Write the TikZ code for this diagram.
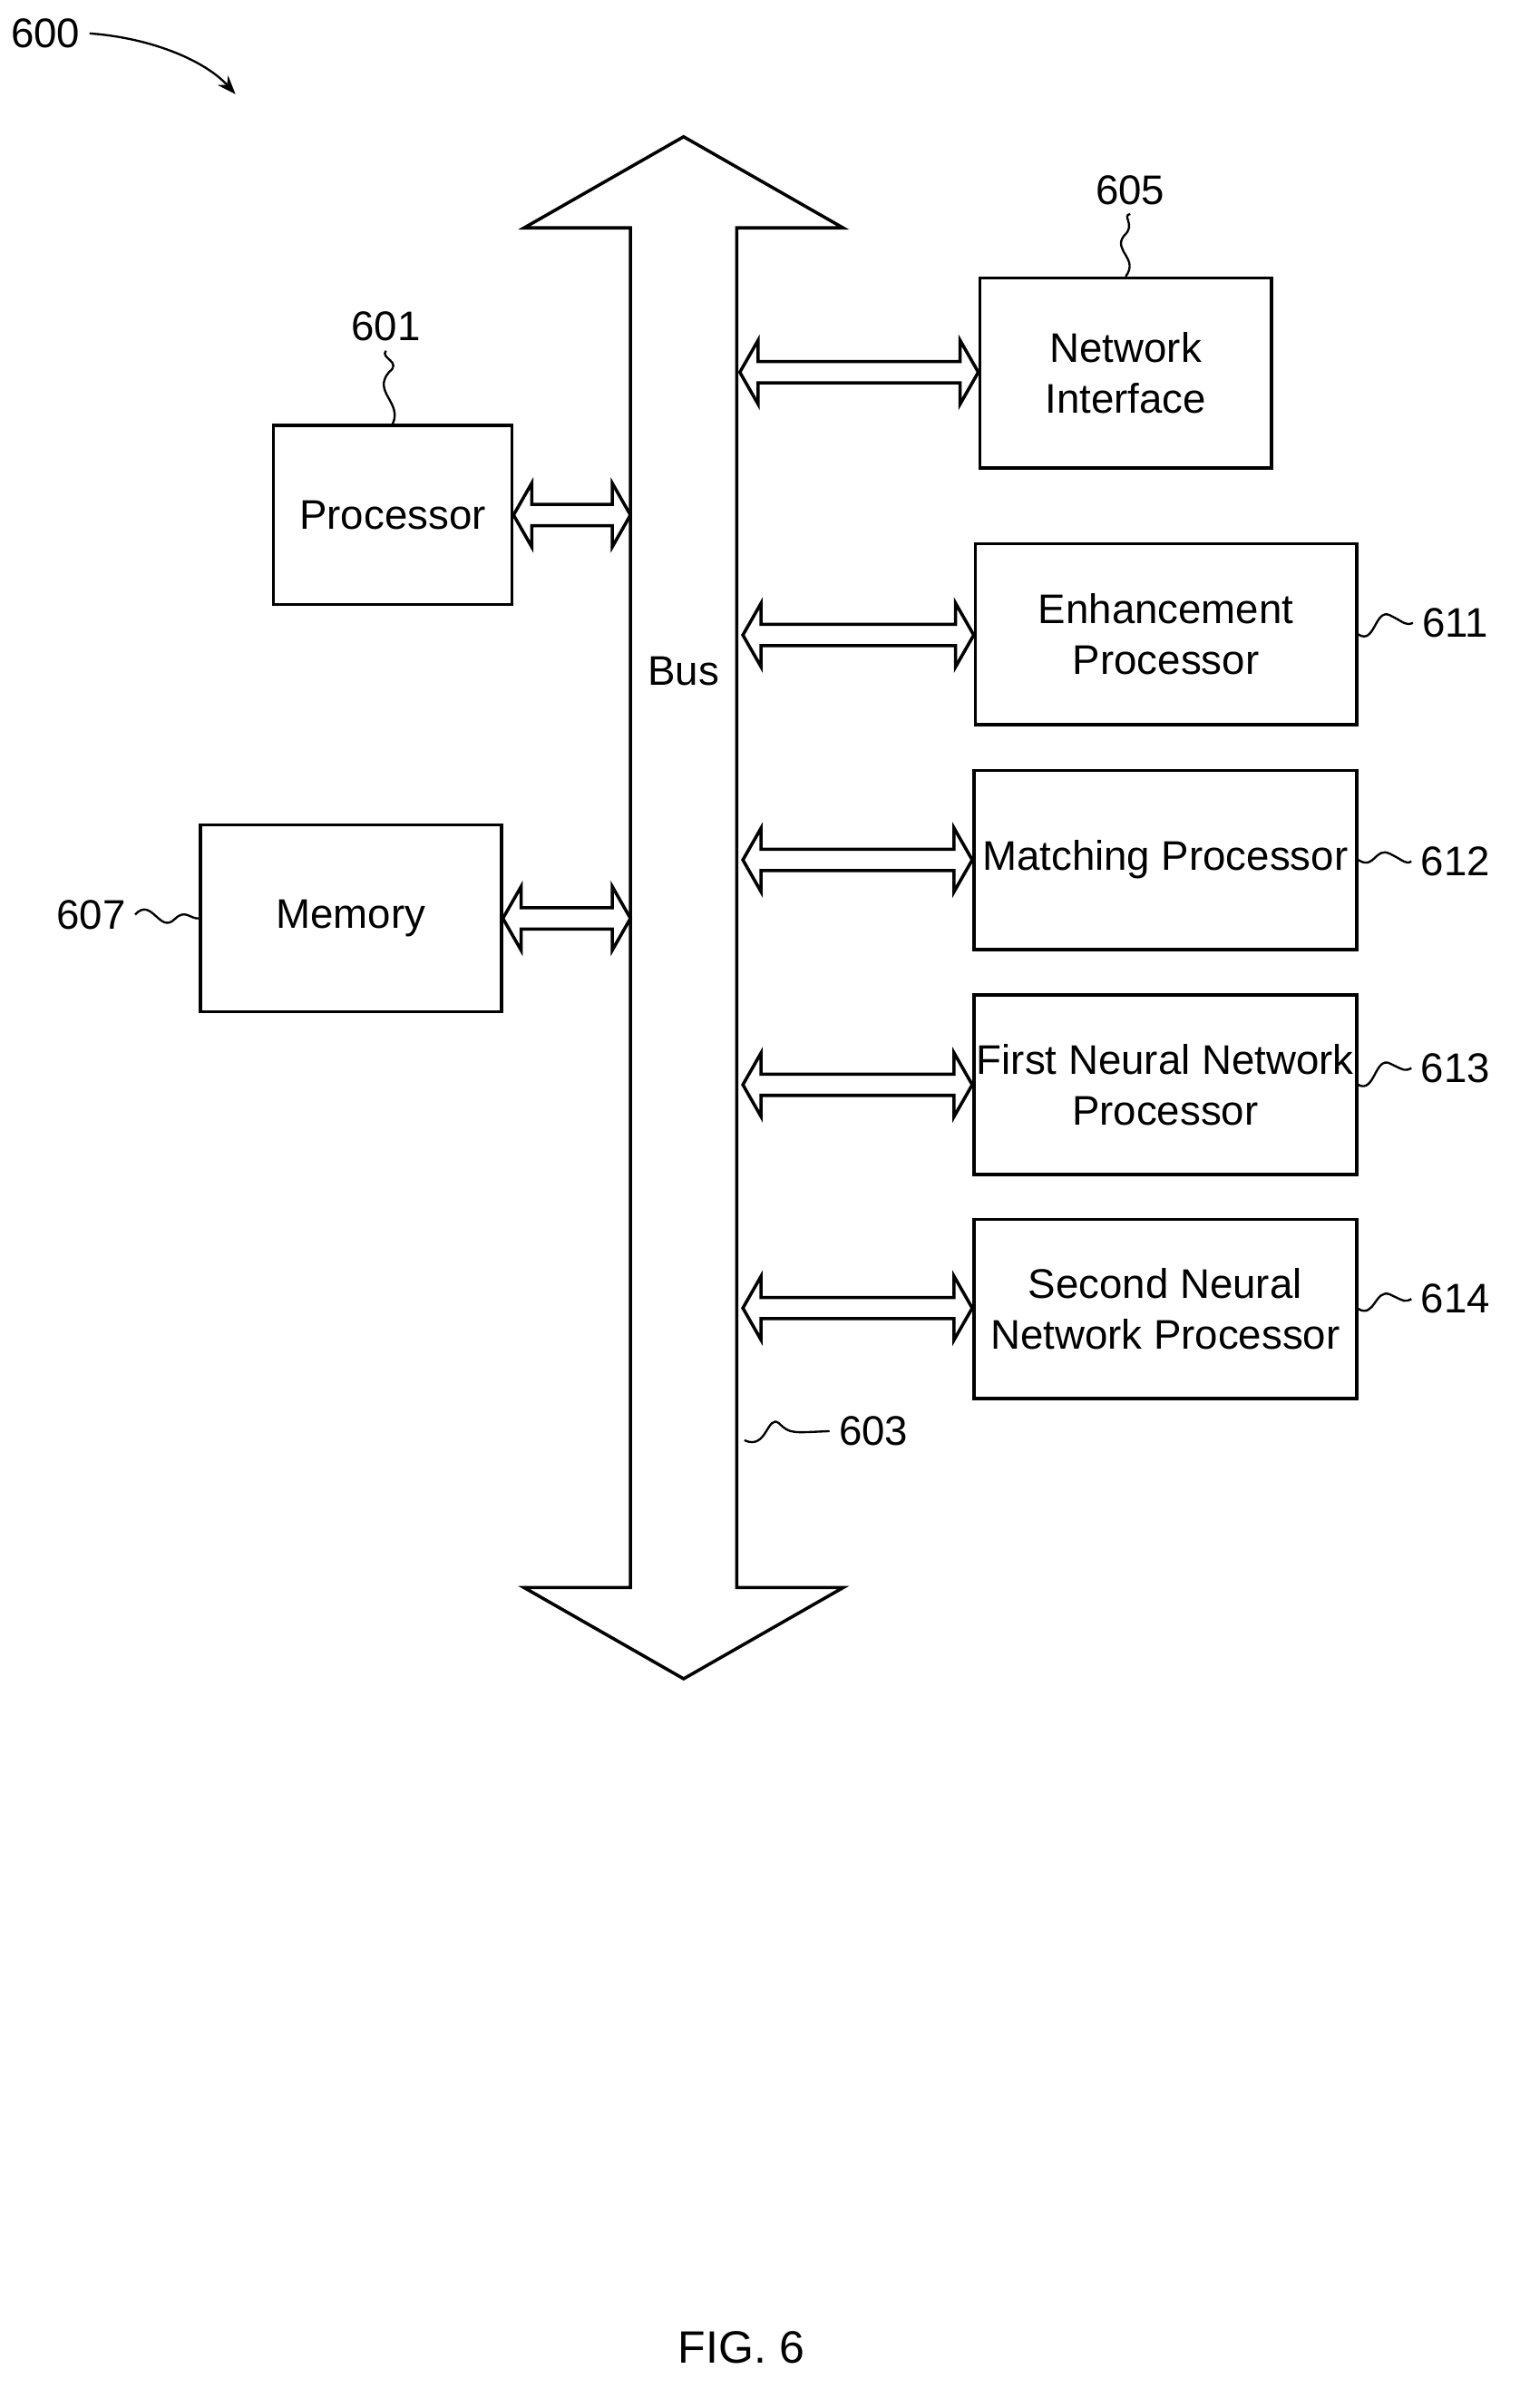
\documentclass[tikz,border=0pt]{standalone}
\usepackage{fontspec}
\setmainfont{Liberation Sans}
\usetikzlibrary{calc,arrows.meta}

% hollow double arrow between two points on one horizontal line
\newcommand\linkarrow[2]{%
  \draw[line width=1.2pt] let \p1=#1, \p2=#2, \n1={0.24cm}, \n2={0.42cm}, \n3={0.14cm} in
    (\x1,\y1) -- (\x1+\n1,\y1+\n2) -- (\x1+\n1,\y1+\n3) -- (\x2-\n1,\y1+\n3)
    -- (\x2-\n1,\y1+\n2) -- (\x2,\y1) -- (\x2-\n1,\y1-\n2) -- (\x2-\n1,\y1-\n3)
    -- (\x1+\n1,\y1-\n3) -- (\x1+\n1,\y1-\n2) -- cycle;}

\begin{document}
\begin{tikzpicture}[
    x=0.02cm, y=-0.02cm,
    box/.style={draw, line width=1.2pt, align=center, font=\fontsize{15.5}{19}\selectfont, inner sep=0pt},
    ref/.style={font=\fontsize{15.5}{19}\selectfont},
    squig/.style={line width=0.8pt}
  ]
  \useasboundingbox (0,0) rectangle (1000,1585);

  % Bus
  \draw[line width=1.2pt] (450,90) -- (555,150) -- (485,150) -- (485,1045) -- (555,1045)
    -- (450,1105) -- (345,1045) -- (415,1045) -- (415,150) -- (345,150) -- cycle;
  \node[ref] (bus) at (450,442) {Bus};

  % Blocks
  \node[box, minimum width=3.14cm, minimum height=2.36cm] (proc) at (258.5,339) {Processor};
  \node[box, minimum width=3.96cm, minimum height=2.46cm] (mem) at (231,604.5) {Memory};
  \node[box, minimum width=3.84cm, minimum height=2.5cm] (net) at (741,245.5) {Network\\Interface};
  \node[box, minimum width=5.02cm, minimum height=2.38cm] (enh) at (767.5,417.5) {Enhancement\\Processor};
  \node[box, minimum width=5.04cm, minimum height=2.36cm] (mat) at (767,566) {Matching Processor};
  \node[box, minimum width=5.04cm, minimum height=2.36cm] (nn1) at (767,714) {First Neural Network\\Processor};
  \node[box, minimum width=5.04cm, minimum height=2.36cm] (nn2) at (767,861.5) {Second Neural\\Network Processor};

  % Links to the bus
  \linkarrow{(proc.east)}{(415,339)}
  \linkarrow{(mem.east)}{(415,604)}
  \linkarrow{(487,245)}{(net.west)}
  \linkarrow{(489,418)}{(enh.west)}
  \linkarrow{(489,566)}{(mat.west)}
  \linkarrow{(489,714)}{(nn1.west)}
  \linkarrow{(489,861)}{(nn2.west)}

  % Reference numerals
  \node[ref] (r600) at (30,22) {600};
  \draw[squig, -{Stealth[length=7pt]}] (r600.east) .. controls (100,25) and (135,40) .. (155,62);
  \node[ref] (r601) at (254,215) {601};
  \draw[squig] (proc.north) .. controls (265,265) and (245,258) .. (256,245) .. controls (265,238) and (250,236) .. (r601.south);
  \node[ref] (r607) at (60,602) {607};
  \draw[squig] (r607.east) .. controls (100,590) and (105,615) .. (115,605) .. controls (122,598) and (125,605) .. (mem.west);
  \node[ref] (r605) at (744,125) {605};
  \draw[squig] (net.north) .. controls (750,170) and (732,165) .. (740,155) .. controls (748,148) and (738,142) .. (r605.south);
  \node[ref] (r611) at (958,410) {611};
  \draw[squig] (enh.east) .. controls (905,425) and (905,400) .. (915,405) .. controls (925,410) and (925,412) .. (r611.west);
  \node[ref] (r612) at (958,567) {612};
  \draw[squig] (mat.east) .. controls (905,573) and (905,557) .. (915,562) .. controls (925,567) and (925,569) .. (r612.west);
  \node[ref] (r613) at (958,703) {613};
  \draw[squig] (nn1.east) .. controls (905,720) and (905,695) .. (915,700) .. controls (925,705) and (925,705) .. (r613.west);
  \node[ref] (r614) at (958,855) {614};
  \draw[squig] (nn2.east) .. controls (905,868) and (905,848) .. (915,852) .. controls (925,857) and (925,857) .. (r614.west);
  \node[ref] (r603) at (575,942) {603};
  \coordinate (busedge) at (490,948);
  \draw[squig] (busedge) .. controls (505,955) and (505,930) .. (513,937) .. controls (520,944) and (522,943) .. (r603.west);

  \node[font=\fontsize{17}{20}\selectfont] (fig) at (488,1545) {FIG. 6};
\end{tikzpicture}
\end{document}
